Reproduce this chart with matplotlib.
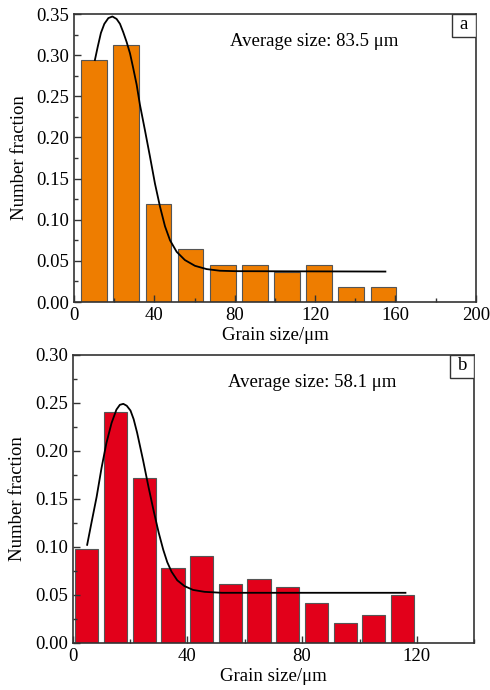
import matplotlib
matplotlib.use("Agg")
import matplotlib.pyplot as plt
from matplotlib.patches import Rectangle
from matplotlib.ticker import MultipleLocator, FormatStrFormatter

plt.rcParams['font.family'] = ['Liberation Serif', 'DejaVu Serif']

# --- panel a data ---
centers_a = [10, 26, 42, 58, 74, 90, 106, 122, 138, 154]
frac_a = [0.294, 0.312, 0.119, 0.064, 0.045, 0.045, 0.037, 0.045, 0.018, 0.018]
fit_x_a = [10.4, 11.8, 13.4, 15.1, 17.1, 19.1, 21.2, 22.9, 24.5, 26.2, 27.9,
           29.5, 31.2, 32.8, 35.3, 37.8, 40.3, 42.8, 45.3, 47.8, 51.1, 55.2,
           60.2, 66.0, 72.6, 80, 155]
fit_y_a = [0.294, 0.310, 0.327, 0.338, 0.345, 0.347, 0.344, 0.338, 0.328, 0.316,
           0.302, 0.284, 0.264, 0.240, 0.209, 0.177, 0.144, 0.116, 0.092, 0.075,
           0.061, 0.051, 0.044, 0.040, 0.038, 0.0375, 0.037]

# --- panel b data ---
centers_b = [5, 15, 25, 35, 45, 55, 65, 75, 85, 95, 105, 115]
frac_b = [0.098, 0.241, 0.172, 0.078, 0.090, 0.061, 0.066, 0.058, 0.041, 0.020, 0.029, 0.050]
fit_x_b = [5.1, 6.6, 8.4, 10.1, 11.8, 13.6, 15.3, 16.5, 17.7, 18.9, 20.2, 21.3, 22.5,
           24.6, 26.5, 28.3, 30.0, 31.6, 33.0, 34.5, 36.5, 39, 42, 46, 52, 116]
fit_y_b = [0.102, 0.125, 0.152, 0.182, 0.208, 0.229, 0.243, 0.248, 0.249, 0.247,
           0.242, 0.233, 0.219, 0.190, 0.162, 0.137, 0.115, 0.097, 0.084, 0.074,
           0.065, 0.059, 0.055, 0.053, 0.052, 0.052]

fig = plt.figure(figsize=(4.9, 6.9), dpi=100)
ax1 = fig.add_axes([0.151, 0.5623, 0.820, 0.4174])
ax2 = fig.add_axes([0.148, 0.0686, 0.820, 0.4170])

fs = 13.5


def style(ax, xmax, ymax, letter, avg):
    ax.set_xlim(0, xmax)
    ax.set_ylim(0, ymax)
    ax.xaxis.set_major_locator(MultipleLocator(40))
    ax.xaxis.set_minor_locator(MultipleLocator(20))
    ax.yaxis.set_major_locator(MultipleLocator(0.05))
    ax.yaxis.set_minor_locator(MultipleLocator(0.025))
    ax.yaxis.set_major_formatter(FormatStrFormatter('%.2f'))
    ax.tick_params(which='both', direction='in', top=False, right=False,
                   labelsize=fs, color='#333333')
    ax.tick_params(which='major', length=5, width=1)
    ax.tick_params(which='minor', length=3, width=1)
    for lab in ax.get_xticklabels() + ax.get_yticklabels():
        lab.set_fontfamily('Liberation Serif')
    for s in ax.spines.values():
        s.set_linewidth(1.2)
        s.set_color('#333333')
    ax.set_xlabel('Grain size/μm', fontsize=fs, labelpad=2.5)
    ax.set_ylabel('Number fraction', fontsize=fs, labelpad=6)
    ax.text(0.597, 0.903, 'Average size: ' + avg + ' μm', transform=ax.transAxes,
            ha='center', va='center', fontsize=fs)
    ax.add_patch(Rectangle((0.94, 0.921), 0.06, 0.079, transform=ax.transAxes,
                           fc='white', ec='#333333', lw=1.0, zorder=5))
    ax.text(0.97, 0.962, letter, transform=ax.transAxes, ha='center',
            va='center', fontsize=fs, zorder=6)


ax1.bar(centers_a, frac_a, width=12.8, color='#EE7D00', edgecolor='#555555', linewidth=0.8)
ax1.plot(fit_x_a, fit_y_a, color='black', lw=1.3)
style(ax1, 200, 0.35, 'a', '83.5')

ax2.bar(centers_b, frac_b, width=8.1, color='#E2001A', edgecolor='#555555', linewidth=0.8)
ax2.plot(fit_x_b, fit_y_b, color='black', lw=1.3)
style(ax2, 140, 0.30, 'b', '58.1')

fig.savefig('out.png', dpi=100)
